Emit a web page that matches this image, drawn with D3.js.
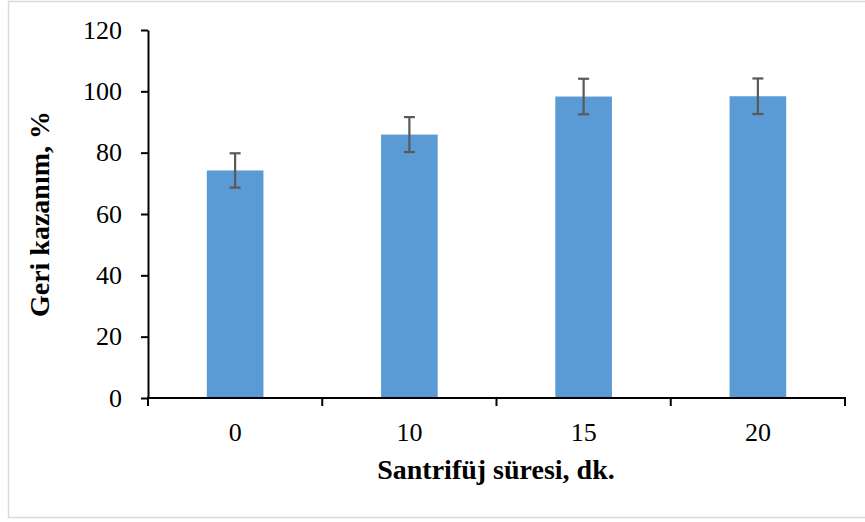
<!DOCTYPE html>
<html>
<head>
<meta charset="utf-8">
<script src="https://cdn.jsdelivr.net/npm/d3@7"></script>
<style>
  html, body { margin: 0; padding: 0; background: #fff; }
  svg { display: block; }
</style>
</head>
<body>
<svg id="chart" width="865" height="522"></svg>
<script>
// Centrifuge time categories (minutes)
const categories = ["0", "10", "15", "20"];
// Recovery (%) per centrifuge time
const recovery = [74.2, 85.9, 98.3, 98.4];
// Error bar half-widths (±)
const errors = [5.6, 5.7, 5.8, 5.8];
// Y axis tick values
const yTicks = [0, 20, 40, 60, 80, 100, 120];

const svg = d3.select("#chart");
const W = 865, H = 522;
const margin = { left: 148, right: 20, top: 30, bottom: 124 };
const x0 = margin.left, x1 = W - margin.right;
const y0 = H - margin.bottom, y1 = margin.top;

// Outer chart-area border
svg.append("rect")
  .attr("x", 8.5).attr("y", 1.5)
  .attr("width", 870).attr("height", 516)
  .attr("fill", "#fff")
  .attr("stroke", "#d9d9d9")
  .attr("stroke-width", 1.5);

const x = d3.scaleBand().domain(categories).range([x0, x1]).paddingInner(0).paddingOuter(0);
const y = d3.scaleLinear().domain([0, 120]).range([y0, y1]);

const font = "'Liberation Serif', 'Times New Roman', serif";

// Bars
const barW = x.bandwidth() * 0.325;
svg.append("g").selectAll("rect")
  .data(categories)
  .join("rect")
  .attr("x", d => x(d) + x.bandwidth() / 2 - barW / 2)
  .attr("y", (d, i) => y(recovery[i]))
  .attr("width", barW)
  .attr("height", (d, i) => y(0) - y(recovery[i]))
  .attr("fill", "#5b9bd5");

// Error bars
const eg = svg.append("g").attr("stroke", "#595959").attr("stroke-width", 2.2).attr("fill", "none");
categories.forEach((d, i) => {
  const cx = x(d) + x.bandwidth() / 2;
  const top = y(recovery[i] + errors[i]);
  const bot = y(recovery[i] - errors[i]);
  const cap = 5.5;
  eg.append("line").attr("x1", cx).attr("x2", cx).attr("y1", top).attr("y2", bot);
  eg.append("line").attr("x1", cx - cap).attr("x2", cx + cap).attr("y1", top).attr("y2", top);
  eg.append("line").attr("x1", cx - cap).attr("x2", cx + cap).attr("y1", bot).attr("y2", bot);
});

// Y axis
const yAxis = svg.append("g")
  .attr("transform", `translate(${x0},0)`)
  .call(d3.axisLeft(y).tickValues(yTicks).tickSize(7).tickPadding(19).tickSizeOuter(0));
yAxis.select(".domain").attr("stroke", "#000").attr("stroke-width", 2);
yAxis.selectAll(".tick line").attr("stroke", "#000").attr("stroke-width", 2);
yAxis.selectAll(".tick text")
  .attr("font-family", font).attr("font-size", 26).attr("fill", "#000");

// X axis: ticks between categories, labels centered under bars
const xAxisG = svg.append("g").attr("transform", `translate(0,${y0})`);
xAxisG.append("line")
  .attr("x1", x0 - 1).attr("x2", x1 + 1)
  .attr("stroke", "#000").attr("stroke-width", 2);
const boundaries = categories.map(d => x(d)).concat([x(categories[categories.length - 1]) + x.bandwidth()]);
xAxisG.selectAll("line.tk")
  .data(boundaries)
  .join("line")
  .attr("class", "tk")
  .attr("x1", d => d).attr("x2", d => d)
  .attr("y1", 0).attr("y2", 8)
  .attr("stroke", "#000").attr("stroke-width", 2);
xAxisG.selectAll("text")
  .data(categories)
  .join("text")
  .attr("x", d => x(d) + x.bandwidth() / 2)
  .attr("y", 43)
  .attr("text-anchor", "middle")
  .attr("font-family", font).attr("font-size", 26).attr("fill", "#000")
  .text(d => d);

// Axis titles
svg.append("text")
  .attr("x", 496).attr("y", 479)
  .attr("text-anchor", "middle")
  .attr("font-family", font).attr("font-size", 28).attr("font-weight", "bold")
  .text("Santrifüj süresi, dk.");

svg.append("text")
  .attr("transform", `translate(49,${(y0 + y1) / 2}) rotate(-90)`)
  .attr("text-anchor", "middle")
  .attr("font-family", font).attr("font-size", 28).attr("font-weight", "bold")
  .text("Geri kazanım, %");
</script>
</body>
</html>
